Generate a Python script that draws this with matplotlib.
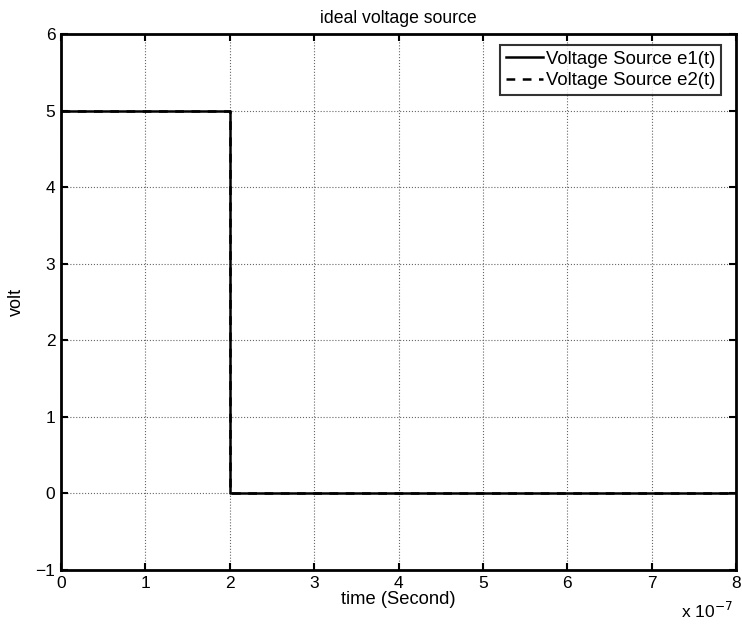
import matplotlib.pyplot as plt
from matplotlib.ticker import FuncFormatter

plt.rcParams['font.family'] = ['Liberation Sans', 'DejaVu Sans']

# step waveform of the two sources (time in seconds, volt)
t1 = [0, 2e-7, 2e-7, 8e-7]
e1 = [5, 5, 0, 0]
t2 = [0, 2e-7, 2e-7, 8e-7]
e2 = [5, 5, 0, 0]

fig = plt.figure(figsize=(7.42, 6.26), dpi=100)
ax = fig.add_axes([0.0822, 0.0895, 0.9098, 0.8562])

ax.plot(t1, e1, '-', color='black', lw=1.8, label='Voltage Source e1(t)')
ax.plot(t2, e2, '--', color='black', lw=1.8, dashes=(3.5, 3), label='Voltage Source e2(t)')

ax.set_xlim(0, 8e-7)
ax.set_ylim(-1, 6)
ax.set_xticks([i * 1e-7 for i in range(9)])
ax.set_yticks(range(-1, 7))
ax.xaxis.set_major_formatter(FuncFormatter(lambda x, p: '%d' % round(x / 1e-7)))
ax.yaxis.set_major_formatter(FuncFormatter(lambda y, p: ('\u2212%d' % -y) if y < 0 else '%d' % y))
ax.grid(True, linestyle=':', color='#666666', lw=0.8)
ax.tick_params(direction='in', top=True, right=True, length=5, width=1.5, labelsize=12.5, pad=4)
for s in ax.spines.values():
    s.set_linewidth(2)

ax.set_title('ideal voltage source', fontsize=12.7, pad=8)
ax.set_xlabel('time (Second)', fontsize=13.2, labelpad=0)
ax.set_ylabel('volt', fontsize=13, labelpad=8)
fig.text(0.953, 0.012, r'x 10$^{-7}$', fontsize=12.5, ha='center', va='baseline')

leg = ax.legend(loc='upper right', fontsize=13.4, fancybox=False, edgecolor='black',
                handlelength=2.0, handletextpad=0.15, borderpad=0.3, labelspacing=0.25,
                borderaxespad=0, bbox_to_anchor=(721 / 742, 1 - 45 / 626),
                bbox_transform=fig.transFigure)
leg.get_frame().set_linewidth(1.5)

fig.savefig('out.png', dpi=100)
